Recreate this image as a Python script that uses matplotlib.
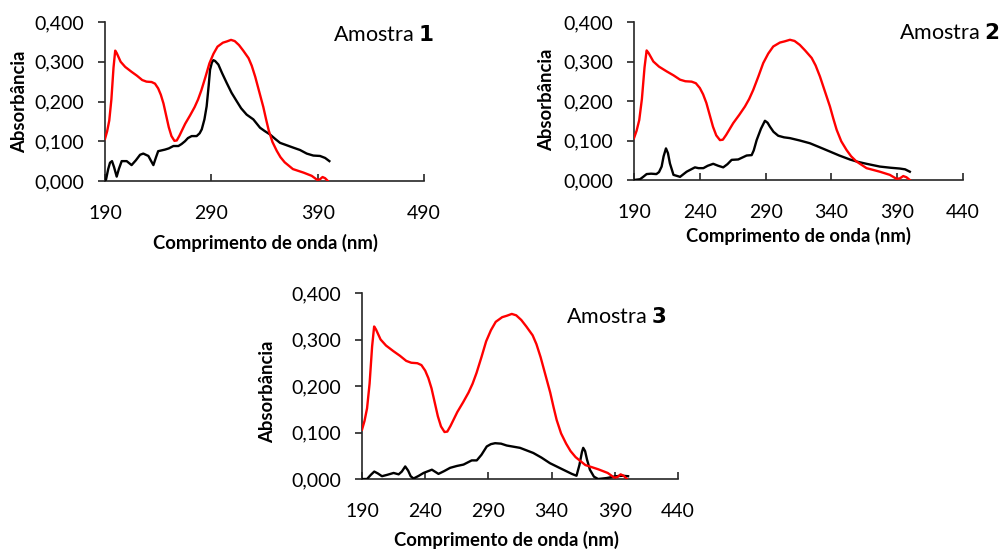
import matplotlib
matplotlib.use("Agg")
import matplotlib.pyplot as plt

plt.rcParams['font.family'] = ['Lato', 'DejaVu Sans']

# Red reference spectrum (same in all panels)
red_x = [190, 192, 194, 196, 198, 199.6, 201, 204.7, 209, 214.8, 220, 225, 229, 233.8, 237, 240, 242.5, 245,
         247.5, 250, 252.5, 255.3, 257.5, 260, 265.4, 270, 274.3, 277.5, 280.6, 284.5, 288.2, 292, 295.8,
         300.9, 304.5, 308.5, 312, 316, 320, 325, 328, 331.3, 335, 338.9, 341.5, 344, 347.5, 351.5, 355,
         359, 366.7, 376.8, 384.4, 389.5, 392, 394.6, 397, 399.6]
red_y = [0.106, 0.125, 0.152, 0.205, 0.285, 0.328, 0.322, 0.300, 0.287, 0.275, 0.265, 0.254, 0.250, 0.249,
         0.245, 0.233, 0.217, 0.195, 0.165, 0.135, 0.113, 0.101, 0.102, 0.114, 0.144, 0.165, 0.186, 0.205,
         0.228, 0.262, 0.296, 0.320, 0.338, 0.348, 0.351, 0.355, 0.352, 0.342, 0.328, 0.309, 0.290, 0.262,
         0.225, 0.186, 0.155, 0.127, 0.098, 0.076, 0.060, 0.047, 0.030, 0.021, 0.013, 0.003, 0.004, 0.010,
         0.007, 0.000]

# Black sample spectra
s1_x = [190, 191, 193, 194.7, 196.6, 198.5, 201, 203, 205.7, 210.4, 215, 219, 223, 226, 230.8, 233, 235.5,
        238, 240, 246.4, 250, 254.3, 259, 262, 265.2, 268, 271.5, 276.2, 279, 281, 283.5, 285.6, 287.5,
        288.8, 290.5, 291.9, 293.5, 296.6, 300, 304.4, 309, 313.8, 318, 323.2, 329.5, 335.8, 340, 345.2,
        350, 354.6, 360.8, 367, 373.4, 379.7, 385.9, 392.2, 397, 401]
s1_y = [0.000, 0.004, 0.030, 0.046, 0.050, 0.035, 0.011, 0.030, 0.050, 0.050, 0.040, 0.052, 0.066, 0.069,
        0.063, 0.052, 0.040, 0.060, 0.075, 0.079, 0.082, 0.088, 0.088, 0.093, 0.100, 0.108, 0.113, 0.113,
        0.120, 0.130, 0.155, 0.188, 0.240, 0.280, 0.298, 0.304, 0.302, 0.293, 0.272, 0.247, 0.222, 0.201,
        0.183, 0.167, 0.155, 0.134, 0.126, 0.117, 0.106, 0.096, 0.090, 0.084, 0.078, 0.069, 0.064, 0.063,
        0.058, 0.050]

s2_x = [190, 194.6, 197, 199.6, 203, 207, 209, 211, 212.5, 214.3, 215.8, 217.3, 220, 225, 230, 236.3, 239,
        242.7, 246, 250.2, 254, 257.8, 261, 264.2, 269.2, 275.6, 279.4, 281, 283.2, 286.5, 289.5, 291.5,
        293.3, 296, 299.6, 304, 308.5, 316, 323.7, 331, 338.9, 346, 354, 360, 366.7, 376.8, 385, 392,
        396, 399.6]
s2_y = [0.000, 0.002, 0.008, 0.015, 0.016, 0.015, 0.020, 0.034, 0.060, 0.080, 0.068, 0.042, 0.013, 0.008,
        0.021, 0.032, 0.030, 0.030, 0.036, 0.041, 0.036, 0.032, 0.040, 0.051, 0.052, 0.062, 0.063, 0.075,
        0.101, 0.130, 0.150, 0.145, 0.135, 0.122, 0.112, 0.108, 0.106, 0.100, 0.093, 0.083, 0.072, 0.062,
        0.052, 0.046, 0.041, 0.034, 0.031, 0.029, 0.027, 0.021]

s3_x = [190, 194, 197, 199.7, 202.5, 205.8, 210, 215, 219, 221.5, 224.2, 226.5, 228.5, 230.8, 235, 238.7,
        245.3, 250.5, 255, 259.7, 265, 270.3, 276.8, 280.8, 284.5, 288.7, 292, 295.3, 300, 304.5, 315,
        325.5, 332, 338.7, 349.2, 356, 359.7, 362, 364, 365, 366.5, 368, 370.3, 373.5, 376.8, 383.4,
        391.3, 396, 400.5]
s3_y = [0.000, 0.000, 0.009, 0.016, 0.012, 0.006, 0.009, 0.013, 0.010, 0.016, 0.027, 0.018, 0.006, 0.001,
        0.007, 0.013, 0.020, 0.011, 0.017, 0.024, 0.028, 0.031, 0.040, 0.040, 0.052, 0.070, 0.075, 0.077,
        0.076, 0.072, 0.067, 0.056, 0.046, 0.034, 0.020, 0.011, 0.007, 0.030, 0.058, 0.067, 0.060, 0.042,
        0.020, 0.005, 0.000, 0.002, 0.006, 0.007, 0.006]

y_ticks = [0.0, 0.1, 0.2, 0.3, 0.4]
y_tick_labels = ["0,000", "0,100", "0,200", "0,300", "0,400"]
x_ticks_1 = [190, 290, 390, 490]
x_ticks_23 = [190, 240, 290, 340, 390, 440]

xlabel = "Comprimento de onda (nm)"
ylabel = "Absorbância"

fig = plt.figure(figsize=(9.99, 5.5), dpi=100)

W, H = 999.0, 550.0


def make_axes(left, right, top, bottom):
    return fig.add_axes([left / W, 1 - bottom / H, (right - left) / W, (bottom - top) / H])


panels = [
    dict(box=(105, 424, 22, 181), sx=s1_x, sy=s1_y, xt=x_ticks_1, xlim=(190, 490), num="1",
         title_xy=(383, 35), xlab_xy=(265, 243), ylab_xy=(20, 102)),
    dict(box=(634, 963, 22, 180), sx=s2_x, sy=s2_y, xt=x_ticks_23, xlim=(190, 440), num="2",
         title_xy=(949, 33), xlab_xy=(798, 236), ylab_xy=(547, 100)),
    dict(box=(362, 678, 293, 479), sx=s3_x, sy=s3_y, xt=x_ticks_23, xlim=(190, 440), num="3",
         title_xy=(616, 317), xlab_xy=(506, 540), ylab_xy=(268, 392)),
]

for p in panels:
    ax = make_axes(*p['box'])
    ax.plot(p['sx'], p['sy'], color='black', lw=1.7, solid_joinstyle='round', zorder=3)
    ax.plot(red_x, red_y, color='#ff0000', lw=1.7, solid_joinstyle='round', zorder=4)
    ax.set_xlim(*p['xlim'])
    ax.set_ylim(0, 0.4)
    ax.set_xticks(p['xt'])
    ax.set_xticklabels([str(v) for v in p['xt']])
    ax.set_yticks(y_ticks)
    ax.set_yticklabels(y_tick_labels)
    for s in ('top', 'right'):
        ax.spines[s].set_visible(False)
    for s in ('left', 'bottom'):
        ax.spines[s].set_color('#262626')
        ax.spines[s].set_linewidth(1.2)
    ax.spines['bottom'].set_zorder(2)
    ax.tick_params(axis='x', direction='in', length=5, width=1.2, color='#262626',
                   labelsize=14, pad=17)
    ax.tick_params(axis='y', direction='out', length=5, width=1.2, color='#262626',
                   labelsize=14, pad=10)
    ax.patch.set_visible(False)
    for lab in ax.get_xticklabels() + ax.get_yticklabels():
        lab.set_clip_on(False)
    ax.set_xlabel(xlabel, fontsize=13.3, fontweight='bold')
    ax.set_ylabel(ylabel, fontsize=13.3, fontweight='bold')
    ax.xaxis.set_label_coords(p['xlab_xy'][0] / W, 1 - p['xlab_xy'][1] / H, transform=fig.transFigure)
    ax.yaxis.set_label_coords(p['ylab_xy'][0] / W, 1 - p['ylab_xy'][1] / H, transform=fig.transFigure)
    ax.xaxis.label.set_va('center')
    ax.yaxis.label.set_va('center')
    tx, ty = p['title_xy']
    fig.text(tx / W, 1 - ty / H, "Amostra $\\bf{" + p['num'] + "}$", ha='center', va='center',
             fontsize=15.5)

fig.savefig("out.png", dpi=100)
